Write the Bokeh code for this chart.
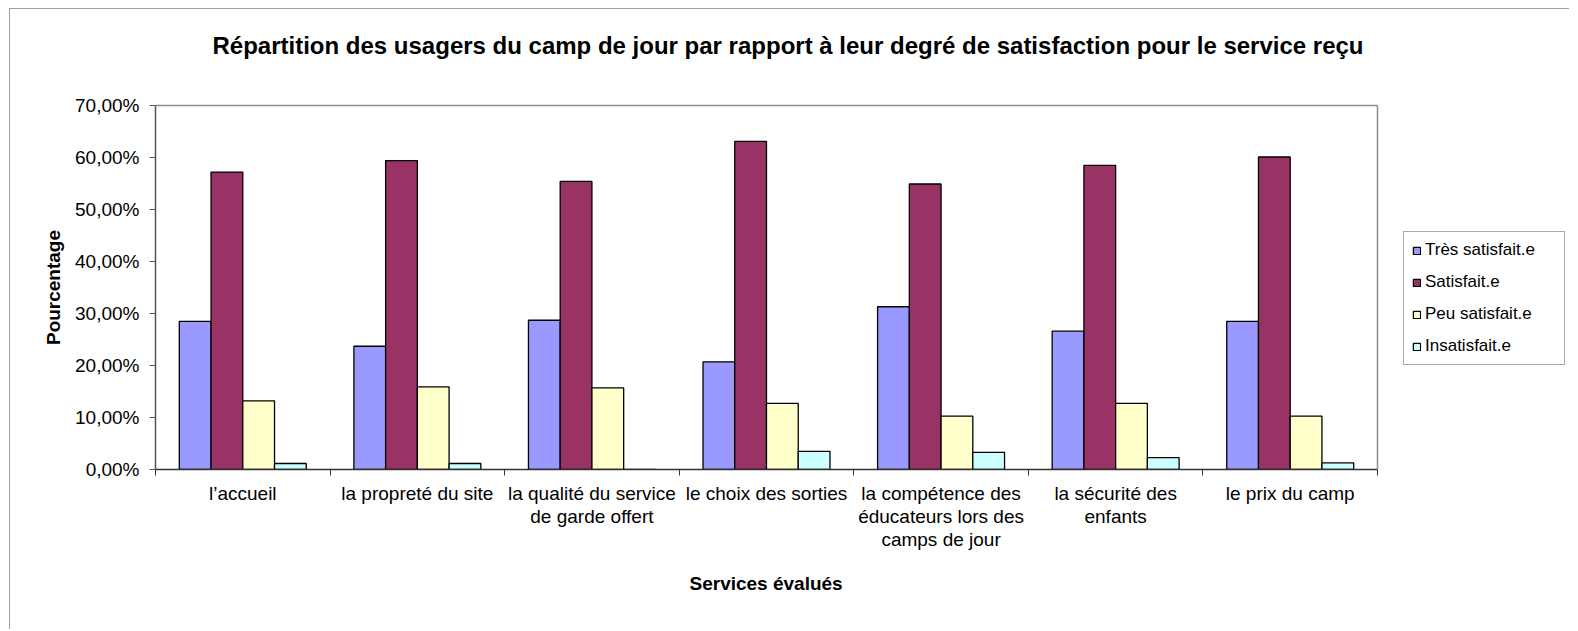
from bokeh.plotting import figure
from bokeh.models import (Range1d, FixedTicker, Legend, LegendItem, ColumnDataSource,
                          LinearAxis, Span, Title)
from bokeh.embed import file_html
from bokeh.resources import INLINE

title_text = "Répartition des usagers du camp de jour par rapport à leur degré de satisfaction pour le service reçu"
x_title = "Services évalués"
y_title = "Pourcentage"
categories = [
    "l’accueil",
    "la propreté du site",
    "la qualité du service\nde garde offert",
    "le choix des sorties",
    "la compétence des\néducateurs lors des\ncamps de jour",
    "la sécurité des\nenfants",
    "le prix du camp",
]
series_names = ["Très satisfait.e", "Satisfait.e", "Peu satisfait.e", "Insatisfait.e"]
tres = [28.5, 23.7, 28.7, 20.7, 31.3, 26.6, 28.5]
satisf = [57.2, 59.4, 55.4, 63.1, 54.9, 58.5, 60.1]
peu = [13.2, 15.9, 15.7, 12.7, 10.25, 12.7, 10.25]
insat = [1.15, 1.15, 0.0, 3.5, 3.3, 2.3, 1.27]
y_ticks = [0, 10, 20, 30, 40, 50, 60, 70]
colors = ["#9999FF", "#993366", "#FFFFCC", "#CCFFFF"]

FONT = "Liberation Sans"
n = len(categories)
bw = 1 / 5.5

W, H = 1578, 629
LEFT, TOP, BOTTOM = 155, 105, 469
PLOT_W = 1222                # pixel width of the bar area
FRAME_W = W - LEFT - 8       # frame extended to host the legend
x_end = n * FRAME_W / PLOT_W

p = figure(width=W, height=H, output_backend="svg", toolbar_location=None,
           x_range=Range1d(0, x_end), y_range=Range1d(0, 70),
           min_border_left=LEFT, min_border_top=TOP, min_border_right=8,
           min_border_bottom=H - BOTTOM)
xa = p.below[0]
ya = p.left[0]
p.styles = {"box-shadow": "inset 9px 8px 0 0 white, inset -9px 0 0 0 white, inset 10px 9px 0 0 #a0a0a0"}
p.background_fill_color = "white"
p.border_fill_alpha = 0
p.outline_line_color = None

p.title.text = title_text
p.title.align = "left"
p.title.offset = 57
p.title.standoff = 55
p.title.text_font = FONT
p.title.text_font_size = "24px"
p.title.text_font_style = "bold"
p.title.text_color = "black"

items = []
for k, (vals, name) in enumerate(zip([tres, satisf, peu, insat], series_names)):
    off = (k - 1.5) * bw
    src = ColumnDataSource(dict(x=[i + 0.5 + off for i in range(n)], top=vals))
    r = p.vbar(x="x", top="top", width=bw, source=src, fill_color=colors[k],
               line_color="black", line_width=1.3)
    items.append(LegendItem(label=name, renderers=[r]))

p.xgrid.visible = False
p.ygrid.visible = False

# y axis
ya.ticker = FixedTicker(ticks=y_ticks, minor_ticks=[])
ya.major_label_overrides = {t: f"{t},00%" for t in y_ticks}
ya.major_label_text_font = FONT
ya.major_label_text_font_size = "19px"
ya.major_label_text_color = "black"
ya.major_tick_out = 6
ya.major_tick_in = 0
ya.major_label_standoff = 10
ya.axis_line_color = "#555555"
ya.axis_line_width = 1.5
ya.major_tick_line_color = "#555555"
ya.axis_label = y_title
ya.axis_label_text_font = FONT
ya.axis_label_text_font_size = "19px"
ya.axis_label_text_font_style = "bold"
ya.axis_label_text_color = "black"
ya.axis_label_standoff = 8

# x axis
xa.bounds = (0, n)
centers = [i + 0.5 for i in range(n)]
xa.ticker = FixedTicker(ticks=centers, minor_ticks=list(range(n + 1)))
xa.major_label_overrides = {c: lab for c, lab in zip(centers, categories)}
xa.major_label_text_font = FONT
xa.major_label_text_font_size = "19px"
xa.major_label_text_color = "black"
xa.major_label_text_line_height = 1.1
xa.major_tick_out = 0
xa.major_tick_in = 0
xa.minor_tick_out = 6
xa.minor_tick_in = 0
xa.minor_tick_line_color = "#333333"
xa.major_label_standoff = 7
xa.axis_line_color = "#333333"
xa.axis_line_width = 1.5

xt = Title(text=x_title, align="left", offset=534, standoff=36, text_font=FONT,
           text_font_size="19px", text_font_style="bold", text_color="black")
p.add_layout(xt, "below")

# plot-area border (top and right); the top axis also spaces the title
top_axis = LinearAxis(bounds=(0, n), ticker=FixedTicker(ticks=[], minor_ticks=[]),
                      axis_line_color="#8c8c8c", axis_line_width=1.5,
                      major_label_text_font_size="0px", major_tick_out=0, major_tick_in=0,
                      major_tick_line_color=None, minor_tick_line_color=None,
                      minor_tick_out=0, minor_tick_in=0, major_label_standoff=0,
                      axis_label=" ", axis_label_text_font_size="10px",
                      axis_label_standoff=5, axis_label_text_color="white")
p.add_layout(top_axis, "above")
p.add_layout(Span(location=n, dimension="height", line_color="#8c8c8c", line_width=1.5))

legend = Legend(items=items, location=(1248, 104), orientation="vertical",
                border_line_color="#555555", border_line_width=1.2,
                padding=8, spacing=12, label_height=20, label_width=131,
                glyph_width=9, glyph_height=9,
                label_standoff=4, label_text_font=FONT, label_text_font_size="17px",
                label_text_color="black", margin=0, background_fill_color="white")
p.add_layout(legend, "center")

open("out.html", "w").write(file_html(p, INLINE))
